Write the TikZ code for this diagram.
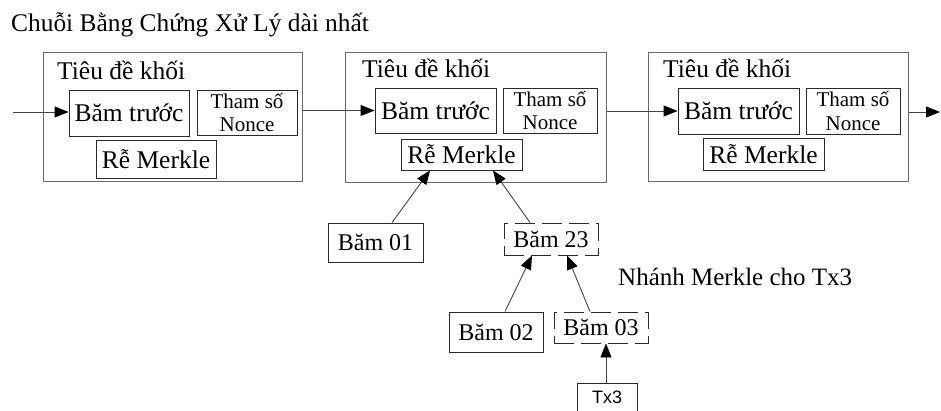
\documentclass[tikz,border=0pt]{standalone}
\usepackage{fontspec}
\setmainfont{Liberation Serif}
\newfontfamily\sansf{Liberation Sans}
\usetikzlibrary{arrows.meta}
\definecolor{boxc}{HTML}{2A2A2A}
\definecolor{blkc}{HTML}{6A6A6A}
\definecolor{arrc}{HTML}{444444}
\begin{document}
\begin{tikzpicture}[x=1pt,y=-1pt,
  blk/.style={draw=blkc, line width=1pt, inner sep=0pt},
  bx/.style={draw=boxc, line width=0.9pt, inner sep=0pt, font=\fontsize{25.5}{28}\selectfont},
  nbx/.style={bx, align=center, font=\fontsize{21}{23.5}\selectfont},
  hbx/.style={bx, font=\fontsize{24}{26}\selectfont},
  dbx/.style={hbx, dash pattern=on 20pt off 7pt},
  lbl/.style={inner sep=0pt, anchor=base west, font=\fontsize{25.5}{28}\selectfont},
  arr/.style={draw=arrc, line width=0.9pt, -{Triangle[length=14pt,width=11pt,color=black]}}
]
\useasboundingbox (0,0) rectangle (941,411);
% title
\node[lbl, font=\fontsize{25.4}{28}\selectfont] (title) at (11,32) {Chuỗi Bằng Chứng Xử Lý dài nhất};
% block 1
\node[blk, minimum width=259pt, minimum height=129pt] (b1) at (172.5,117.5) {};
\node[lbl] (t1) at (57,80) {Tiêu đề khối};
\node[bx, minimum width=120pt, minimum height=46pt] (bam1) at (129,113) {Băm trước};
\node[nbx, minimum width=100pt, minimum height=45pt] (non1) at (247,112.5) {Tham số\\Nonce};
\node[bx, minimum width=120pt, minimum height=38pt] (mr1) at (156,159) {Rễ Merkle};
% block 2
\node[blk, minimum width=261pt, minimum height=130pt] (b2) at (475.5,118) {};
\node[lbl] (t2) at (362,78) {Tiêu đề khối};
\node[bx, minimum width=121pt, minimum height=45pt] (bam2) at (435.5,110.5) {Băm trước};
\node[nbx, minimum width=94pt, minimum height=45pt] (non2) at (550,110.5) {Tham số\\Nonce};
\node[bx, minimum width=121pt, minimum height=31pt] (mr2) at (461.5,154.5) {Rễ Merkle};
% block 3
\node[blk, minimum width=260pt, minimum height=129pt] (b3) at (778,117.5) {};
\node[lbl] (t3) at (663,78) {Tiêu đề khối};
\node[bx, minimum width=121pt, minimum height=46pt] (bam3) at (738.5,111) {Băm trước};
\node[nbx, minimum width=94pt, minimum height=46pt] (non3) at (853,111) {Tham số\\Nonce};
\node[bx, minimum width=121pt, minimum height=32pt] (mr3) at (763.5,154) {Rễ Merkle};
% chain arrows
\coordinate (in) at (13,112);
\coordinate (out) at (940,112);
\draw[arr] (in) -- (in -| bam1.west);
\draw[arr] (b1.east |- bam2.west) -- (bam2.west);
\draw[arr] (b2.east |- bam3.west) -- (bam3.west);
\draw[arr] (b3.east |- out) -- (out);
% merkle tree
\node[hbx, minimum width=95pt, minimum height=39pt] (h01) at (375.5,242.5) {Băm 01};
\node[dbx, minimum width=94pt, minimum height=32pt] (h23) at (551,239) {Băm 23};
\node[hbx, minimum width=94pt, minimum height=40pt] (h02) at (496,332) {Băm 02};
\node[dbx, minimum width=94pt, minimum height=31pt] (h03) at (601,327.5) {Băm 03};
\node[bx, font=\sansf\fontsize{18}{20}\selectfont, minimum width=60pt, minimum height=29pt] (tx3) at (607,397.5) {Tx3};
\node[lbl, font=\fontsize{25}{28}\selectfont] (br) at (618,286) {Nhánh Merkle cho Tx3};
\draw[arr] ([xshift=16.5pt]h01.north) -- ([xshift=-31.5pt]mr2.south);
\draw[arr] ([xshift=-21pt]h23.north) -- ([xshift=31.5pt]mr2.south);
\draw[arr] ([xshift=9pt]h02.north) -- ([xshift=-19pt]h23.south);
\draw[arr] ([xshift=-11pt]h03.north) -- ([xshift=16pt]h23.south);
\draw[arr] ([xshift=-1pt]tx3.north) -- ([xshift=-1pt]tx3.north |- h03.south);
\end{tikzpicture}
\end{document}
